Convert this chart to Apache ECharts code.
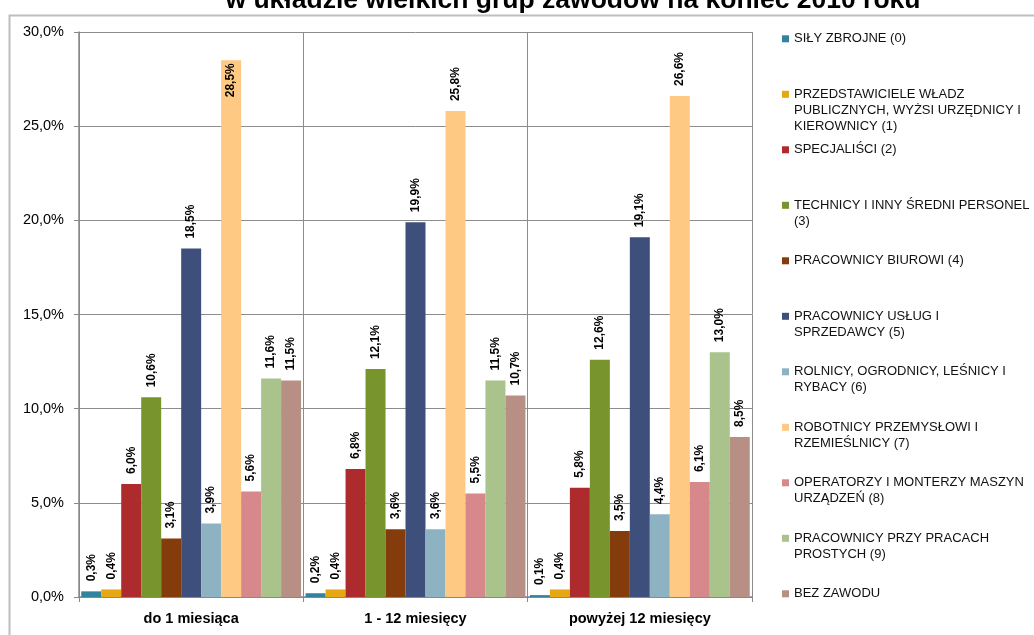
<!DOCTYPE html>
<html>
<head>
<meta charset="utf-8">
<script src="https://cdn.jsdelivr.net/npm/echarts@6/dist/echarts.min.js"></script>
<style>
html,body{margin:0;padding:0;background:#fff;}
#c{width:1034px;height:635px;}
</style>
</head>
<body>
<div id="c"></div>
<script>
const titleText = 'w układzie wielkich grup zawodów na koniec 2010 roku';
const categories = ['do 1 miesiąca', '1 - 12 miesięcy', 'powyżej 12 miesięcy'];
const seriesNames = [
  'SIŁY ZBROJNE (0)',
  'PRZEDSTAWICIELE WŁADZ\nPUBLICZNYCH, WYŻSI URZĘDNICY I\nKIEROWNICY (1)',
  'SPECJALIŚCI (2)',
  'TECHNICY I INNY ŚREDNI PERSONEL\n(3)',
  'PRACOWNICY BIUROWI (4)',
  'PRACOWNICY USŁUG I\nSPRZEDAWCY (5)',
  'ROLNICY, OGRODNICY, LEŚNICY I\nRYBACY (6)',
  'ROBOTNICY PRZEMYSŁOWI I\nRZEMIEŚLNICY (7)',
  'OPERATORZY I MONTERZY MASZYN\nURZĄDZEŃ (8)',
  'PRACOWNICY PRZY PRACACH\nPROSTYCH (9)',
  'BEZ ZAWODU'
];
// values per series: [do 1 miesiąca, 1-12 miesięcy, powyżej 12 miesięcy]
const s0 = [0.3, 0.2, 0.1];
const s1 = [0.4, 0.4, 0.4];
const s2 = [6.0, 6.8, 5.8];
const s3 = [10.6, 12.1, 12.6];
const s4 = [3.1, 3.6, 3.5];
const s5 = [18.5, 19.9, 19.1];
const s6 = [3.9, 3.6, 4.4];
const s7 = [28.5, 25.8, 26.6];
const s8 = [5.6, 5.5, 6.1];
const s9 = [11.6, 11.5, 13.0];
const s10 = [11.5, 10.7, 8.5];
const seriesValues = [s0, s1, s2, s3, s4, s5, s6, s7, s8, s9, s10];
const yTicks = [0, 5, 10, 15, 20, 25, 30];

const colors = ['#31849B', '#E5A812', '#AD2A2D', '#77952C', '#843C0C', '#3E4F7C',
                '#8DB3C3', '#FEC982', '#D6888A', '#AAC28B', '#B78F85'];

const FONT = "'Liberation Sans', Arial, sans-serif";
const fmt = v => v.toFixed(1).replace('.', ',') + '%';
const yMax = yTicks[yTicks.length - 1];

const series = seriesValues.map((vals, i) => ({
  name: seriesNames[i],
  type: 'bar',
  barGap: '0%',
  barCategoryGap: '2%',
  itemStyle: { color: colors[i] },
  label: {
    show: true,
    position: 'top',
    rotate: 90,
    align: 'left',
    verticalAlign: 'middle',
    distance: 10,
    formatter: p => fmt(p.value),
    fontFamily: FONT,
    fontWeight: 'bold',
    fontSize: 12,
    color: '#000'
  },
  data: vals.map(v => v > yMax - 2.5
    ? { value: v, label: { position: 'insideTop', align: 'right', distance: 3 } }
    : v)
}));

const LH = 16;
const legends = seriesNames.map((name, i) => {
  const n = name.split('\n').length;
  return {
    orient: 'vertical',
    left: 782,
    top: 38.8 + 55.5 * i - LH / 2 - LH * (n - 1),
    padding: 0,
    icon: 'rect',
    itemWidth: 7,
    itemHeight: 7,
    selectedMode: false,
    data: [name],
    formatter: nm => '\n'.repeat(n - 1) + nm,
    textStyle: {
      fontFamily: FONT,
      fontSize: 13,
      color: '#111',
      lineHeight: LH
    }
  };
});

const chart = echarts.init(document.getElementById('c'), null, { renderer: 'canvas' });
chart.setOption({
  animation: false,
  backgroundColor: '#fff',
  title: {
    text: titleText,
    left: 573,
    textAlign: 'center',
    top: -12.5,
    padding: 0,
    textStyle: { fontFamily: FONT, fontWeight: 'bold', fontSize: 26.5, color: '#000' }
  },
  graphic: [{
    type: 'rect',
    left: 7, top: 13,
    shape: { width: 1060, height: 660 },
    style: { fill: 'none', stroke: '#BEBEBE', lineWidth: 2 },
    z: -10, silent: true
  }],
  legend: legends,
  grid: { left: 79, right: 282, top: 32, bottom: 38, containLabel: false },
  xAxis: {
    type: 'category',
    data: categories,
    axisLine: { lineStyle: { color: '#888', width: 1.5 } },
    axisTick: { show: true, length: 5, lineStyle: { color: '#888' } },
    splitLine: { show: true, lineStyle: { color: '#8C8C8C', width: 1 } },
    axisLabel: { margin: 14, fontFamily: FONT, fontWeight: 'bold', fontSize: 14.5, color: '#000' }
  },
  yAxis: {
    type: 'value',
    min: yTicks[0], max: yMax, interval: yTicks[1] - yTicks[0],
    axisLine: { show: true, lineStyle: { color: '#888', width: 1.5 } },
    axisTick: { show: true, length: 5, lineStyle: { color: '#888' } },
    splitLine: { show: true, lineStyle: { color: '#8C8C8C', width: 1 } },
    axisLabel: { margin: 15, fontFamily: FONT, fontSize: 14.5, color: '#000', formatter: v => fmt(v) }
  },
  series: series
});
</script>
</body>
</html>
